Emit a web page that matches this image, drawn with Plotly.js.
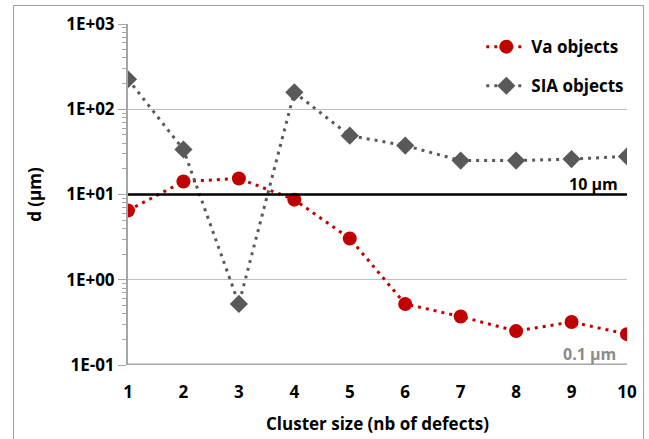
<!DOCTYPE html>
<html>
<head>
<meta charset="utf-8">
<script src="https://cdn.plot.ly/plotly-3.0.1.min.js"></script>
<style>
html,body{margin:0;padding:0;background:#fff;}
#frame{position:absolute;left:13px;top:5px;width:631px;height:440px;border:1px solid #a0a0a0;box-sizing:border-box;}
#chart{position:absolute;left:0;top:0;width:649px;height:439px;}
</style>
</head>
<body>
<div id="frame"></div>
<div id="chart"></div>
<script>
var clusterSize = [1, 2, 3, 4, 5, 6, 7, 8, 9, 10];
var vaObjects = [6.5, 14.2, 15.4, 8.7, 3.05, 0.52, 0.37, 0.25, 0.32, 0.23];
var siaObjects = [225, 33.7, 0.52, 158, 49, 37.5, 25, 25, 26, 28];
var yTickVals = [0.1, 1, 10, 100, 1000];
var yTickText = ['1E-01', '1E+00', '1E+01', '1E+02', '1E+03'];
var refLines = [10, 0.1];
var refLabels = ['10 µm', '0.1 µm'];

var FONT = 'Open Sans, Noto Sans, sans-serif';

var traces = [
  {
    x: clusterSize, y: vaObjects, name: 'Va objects', type: 'scatter', mode: 'lines+markers',
    legendgroup: 'va',
    line: {color: '#c00000', width: 3, dash: '3px,5px'},
    marker: {color: '#c00000', size: 14, symbol: 'circle'}
  },
  {
    x: clusterSize, y: siaObjects, name: 'SIA objects', type: 'scatter', mode: 'lines+markers',
    legendgroup: 'sia',
    line: {color: '#595959', width: 3, dash: '3px,5px'},
    marker: {color: '#595959', size: 14, symbol: 'diamond'}
  }
];

var layout = {
  width: 649, height: 439,
  paper_bgcolor: 'rgba(0,0,0,0)', plot_bgcolor: 'rgba(0,0,0,0)',
  margin: {l: 128, r: 22, t: 24, b: 74},
  font: {family: FONT, color: '#000', size: 17},
  showlegend: true,
  legend: {
    x: 0.708, y: 0.985, xanchor: 'left', yanchor: 'top',
    traceorder: 'grouped', tracegroupgap: 14, itemwidth: 40,
    font: {family: FONT, size: 17, color: '#000', weight: 'bold'},
    bgcolor: 'rgba(0,0,0,0)'
  },
  xaxis: {
    range: [1, 10], tickvals: clusterSize, ticktext: clusterSize.map(String),
    showgrid: false, zeroline: false, showline: false, ticks: '',
    tickfont: {family: FONT, size: 17, weight: 'bold'},
    ticklabelstandoff: 15,
    title: {text: 'Cluster size (nb of defects)', font: {family: FONT, size: 17, weight: 'bold'}, standoff: 16}
  },
  yaxis: {
    type: 'log', range: [-1, 3],
    tickvals: yTickVals, ticktext: yTickText,
    showgrid: true, gridcolor: '#bfbfbf', gridwidth: 1,
    showline: true, linecolor: '#a6a6a6', linewidth: 2,
    ticks: 'outside', ticklen: 8, tickcolor: '#a6a6a6',
    minor: {dtick: 'D1', ticks: 'outside', ticklen: 4, tickcolor: '#a6a6a6', showgrid: false},
    tickfont: {family: FONT, size: 17, weight: 'bold'},
    zeroline: false,
    title: {text: 'd (µm)', font: {family: FONT, size: 17, weight: 'bold'}, standoff: 20}
  },
  shapes: [
    {type: 'line', xref: 'paper', x0: 0, x1: 1, yref: 'y', y0: refLines[0], y1: refLines[0], line: {color: '#000', width: 2.5}},
    {type: 'line', xref: 'paper', x0: 0, x1: 1, yref: 'y', y0: refLines[1], y1: refLines[1], line: {color: '#a6a6a6', width: 3}}
  ],
  annotations: [
    {xref: 'paper', x: 0.986, yref: 'y', y: Math.log10(refLines[0]), text: '<b>' + refLabels[0] + '</b>', showarrow: false, xanchor: 'right', yanchor: 'bottom', yshift: -2, font: {family: FONT, size: 16, color: '#000'}},
    {xref: 'paper', x: 0.982, yref: 'y', y: Math.log10(refLines[1]), text: '<b>' + refLabels[1] + '</b>', showarrow: false, xanchor: 'right', yanchor: 'bottom', yshift: -2, font: {family: FONT, size: 16, color: '#8c8c8c'}}
  ]
};

Plotly.newPlot('chart', traces, layout, {displayModeBar: false, staticPlot: true});
</script>
</body>
</html>
